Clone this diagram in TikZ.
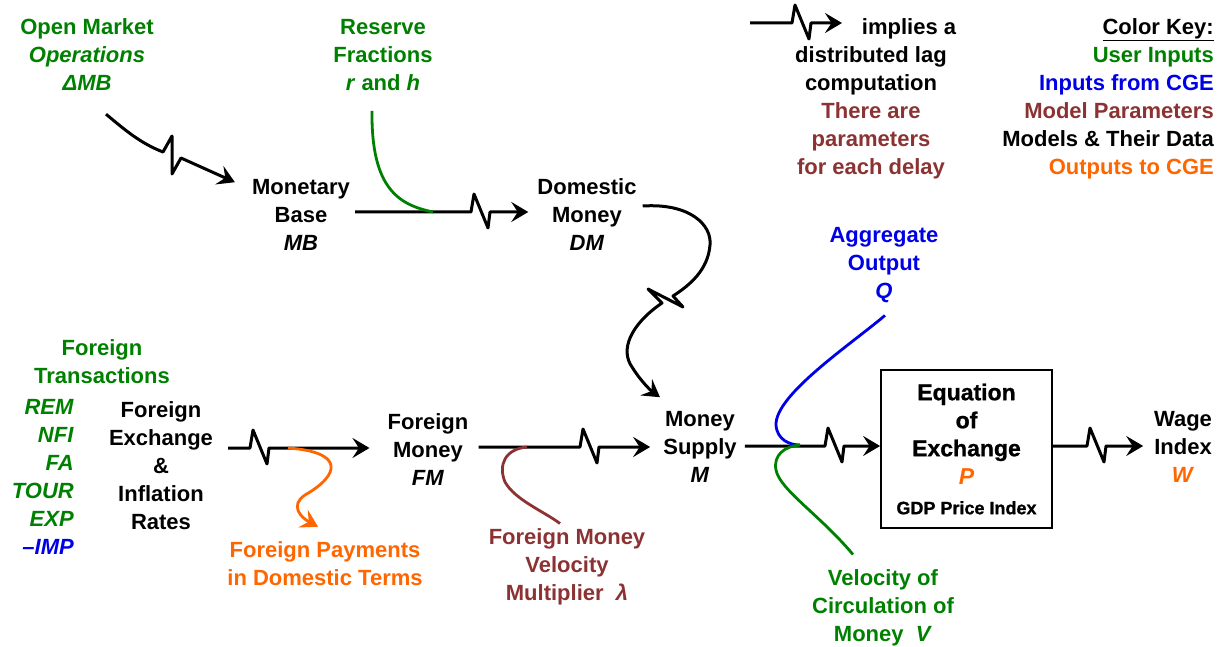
\documentclass[tikz,border=0pt]{standalone}
\usepackage{fontspec}
\setmainfont{Liberation Sans}
\newfontfamily\eqfont{Liberation Sans}[BoldFeatures={FakeBold=1}]
\usetikzlibrary{arrows.meta}
\definecolor{ugreen}{RGB}{0,128,0}
\definecolor{cblue}{RGB}{0,0,230}
\definecolor{pbrown}{RGB}{140,50,50}
\definecolor{oorange}{RGB}{255,102,0}
\newcommand\basefont{\fontsize{22}{28}\selectfont\bfseries}
\begin{document}
\begin{tikzpicture}[x=1pt,y=-1pt,
  every node/.style={font=\basefont, inner sep=0pt, align=center},
  tipstyle/.style={-{Stealth[length=17pt,width=20pt,inset=6.5pt]}},
  conn/.style={line width=3pt, line join=round, tipstyle},
  feed/.style={line width=2.8pt},
  lagh/.style={insert path={-- ++(3,-18) -- ++(14,34) -- ++(2,-16)}}]
\useasboundingbox (0,0) rectangle (1224,647);

% ---- nodes
\node[text=ugreen] (om) at (87,55) {Open Market\\\textit{Operations}\\\textit{ΔMB}};
\node[text=ugreen] (rf) at (383,55) {Reserve\\Fractions\\\textit{r} and \textit{h}};
\node (mb) at (301,215) {Monetary\\Base\\\textit{MB}};
\node (dm) at (587,215) {Domestic\\Money\\\textit{DM}};
\node (lg) at (871,99) {\hspace*{76pt}implies a\\distributed lag\\computation\\\textcolor{pbrown}{There are}\\\textcolor{pbrown}{parameters}\\\textcolor{pbrown}{for each delay}};
\node[anchor=east, align=right] (ck) at (1214,99) {\underline{Color Key:}\\\textcolor{ugreen}{User Inputs}\\\textcolor{cblue}{Inputs from CGE}\\\textcolor{pbrown}{Model Parameters}\\Models \& Their Data\\\textcolor{oorange}{Outputs to CGE}};
\node[text=cblue] (ao) at (884,265) {Aggregate\\Output\\\textit{Q}};
\node[text=ugreen] (ft) at (102,362) {Foreign\\Transactions};
\node[anchor=east, align=right] (tr) at (74,477) {\textcolor{ugreen}{\textit{REM}}\\\textcolor{ugreen}{\textit{NFI}}\\\textcolor{ugreen}{\textit{FA}}\\\textcolor{ugreen}{\textit{TOUR}}\\\textcolor{ugreen}{\textit{EXP}}\\\textcolor{cblue}{\textit{–IMP}}};
\node (fx) at (161,466) {Foreign\\Exchange\\\&\\Inflation\\Rates};
\node (fm) at (428,450) {Foreign\\Money\\\textit{FM}};
\node (ms) at (700,447) {Money\\Supply\\\textit{M}};
\node[draw, line width=1.8pt, minimum width=171pt, minimum height=158pt, font=\fontsize{23}{28}\selectfont\eqfont\bfseries] (eq) at (966.5,449) {Equation\\of\\Exchange\\\textcolor{oorange}{\textit{P}}\\[2pt]{\fontsize{18}{20}\selectfont GDP Price Index}};
\node (wi) at (1183,447) {Wage\\Index\\\textcolor{oorange}{\textit{W}}};
\node[text=oorange] (fp) at (325,564) {Foreign Payments\\in Domestic Terms};
\node[text=pbrown] (fv) at (567,567) {Foreign Money\\Velocity\\Multiplier~ \textit{λ}};
\node[text=ugreen] (vc) at (883,608) {Velocity of\\Circulation of\\Money~ \textit{V}};

% ---- junction coordinates
\coordinate (rj) at (433,212);
\coordinate (oj) at (288,448);
\coordinate (bj) at (527,447);
\coordinate (mj) at (800,445);
\coordinate (ka) at (750,23);
\coordinate (kb) at (842,23);

% ---- connectors
\draw[conn] ([shift={(19pt,-23pt)}]om.south) .. controls (125,130) and (140,143) .. (163,152)
   -- (172,136) -- (172,174) -- (181,158) -- ([shift={(-17pt,-3pt)}]mb.north west);
\draw[conn] ([shift={(5pt,3pt)}]mb.east) -- (471,212) [lagh] -- ([shift={(-9pt,3pt)}]dm.west);
\draw[feed, ugreen] ([shift={(-11pt,-20pt)}]rf.south) .. controls (371,190) and (400,205) .. (rj);
\draw[conn] ([shift={(6pt,9pt)}]dm.east) .. controls (690,203) and (712,225) .. (710,245)
   .. controls (708,270) and (690,285) .. (673,296) -- (683,307) -- (648,289) -- (662,303)
   .. controls (630,325) and (620,350) .. (632,367) .. controls (640,380) and (650,390) .. ([shift={(-40pt,14pt)}]ms.north);
\draw[conn] ([shift={(15pt,18pt)}]fx.east) -- (250,448) [lagh] -- ([shift={(-18pt,2pt)}]fm.west);
\draw[feed, oorange, tipstyle] (oj) .. controls (345,452) and (340,475) .. (305,495)
   .. controls (290,505) and (300,517) .. ([shift={(-7pt,15pt)}]fp.north);
\draw[conn] ([shift={(10pt,3pt)}]fm.east) -- (580,447) [lagh] -- ([shift={(-13pt,0pt)}]ms.west);
\draw[feed, pbrown] (bj) .. controls (505,449) and (498,465) .. (505,482)
   .. controls (515,500) and (545,512) .. ([shift={(-7pt,5pt)}]fv.north);
\draw[conn] ([shift={(8pt,1pt)}]ms.east) -- (825,446) [lagh] -- ([shift={(0pt,3pt)}]eq.west);
\draw[feed, cblue] ([shift={(1pt,-12.5pt)}]ao.south) .. controls (850,345) and (775,395) .. (776,425)
   .. controls (777,440) and (790,445) .. (mj);
\draw[feed, ugreen] (mj) .. controls (785,446) and (773,455) .. (776,470)
   .. controls (780,490) and (820,515) .. ([shift={(-30pt,15pt)}]vc.north);
\draw[conn] ([shift={(0pt,3pt)}]eq.east) -- (1087,446) [lagh] -- ([shift={(-10.7pt,1pt)}]wi.west);
\draw[conn] (ka) -- (792,23) [lagh] -- (kb);
\end{tikzpicture}
\end{document}
